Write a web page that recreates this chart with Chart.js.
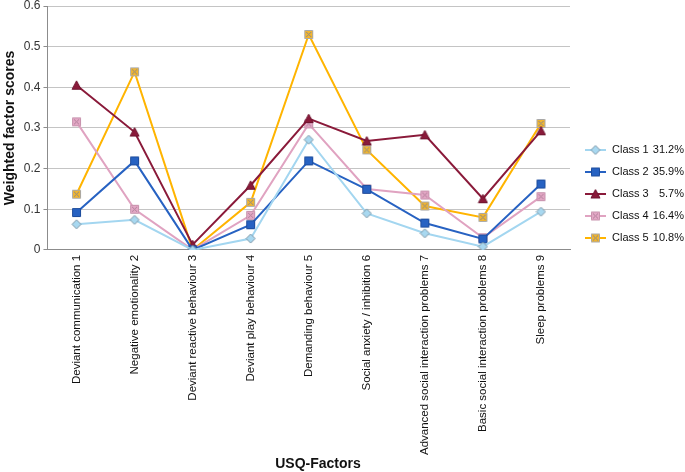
<!DOCTYPE html>
<html>
<head>
<meta charset="utf-8">
<script src="https://cdn.jsdelivr.net/npm/chart.js@4/dist/chart.umd.min.js"></script>
<style>
  html, body { margin: 0; padding: 0; background: #fff; }
  #wrap { width: 685px; height: 472px; }
</style>
</head>
<body>
<div id="wrap"><canvas id="chart"></canvas></div>
<script>
// data
const factors = [
  "Deviant communication 1", "Negative emotionality 2", "Deviant reactive behaviour 3",
  "Deviant play behaviour 4", "Demanding behaviour 5", "Social anxiety / inhibition 6",
  "Advanced social interaction problems 7", "Basic social interaction problems 8", "Sleep problems 9"
];
const classNames = ["Class 1", "Class 2", "Class 3", "Class 4", "Class 5"];
const classShares = ["31.2%", "35.9%", "5.7%", "16.4%", "10.8%"];
const class1 = [0.063, 0.074, 0.0, 0.028, 0.271, 0.09, 0.041, 0.008, 0.094];
const class2 = [0.092, 0.219, 0.0, 0.062, 0.219, 0.149, 0.066, 0.027, 0.162];
const class3 = [0.405, 0.29, 0.013, 0.159, 0.323, 0.268, 0.283, 0.126, 0.293];
const class4 = [0.315, 0.1, 0.0, 0.085, 0.31, 0.15, 0.135, 0.03, 0.131];
const class5 = [0.137, 0.438, 0.0, 0.117, 0.53, 0.246, 0.108, 0.08, 0.311];
const yTicks = [0, 0.1, 0.2, 0.3, 0.4, 0.5, 0.6];

const FONT = "'Liberation Sans', Arial, sans-serif";

// little marker pictures, used on the lines and in the legend
function marker(kind, fill, stroke, cross) {
  const c = document.createElement("canvas");
  c.width = 11; c.height = 11;
  const g = c.getContext("2d");
  g.fillStyle = fill;
  g.strokeStyle = stroke;
  g.lineWidth = 1;
  g.beginPath();
  if (kind == "diamond") {
    g.moveTo(5.5, 1); g.lineTo(10, 5.5); g.lineTo(5.5, 10); g.lineTo(1, 5.5); g.closePath();
  } else if (kind == "triangle") {
    g.moveTo(5.5, 1); g.lineTo(10, 9.5); g.lineTo(1, 9.5); g.closePath();
  } else {
    g.rect(1.5, 1.5, 8, 8);
  }
  g.fill();
  g.stroke();
  if (cross) {
    g.strokeStyle = cross;
    g.beginPath();
    g.moveTo(3, 3); g.lineTo(8, 8);
    g.moveTo(8, 3); g.lineTo(3, 8);
    g.stroke();
  }
  return c;
}

const lineColors = ["#a3d6f0", "#2762c2", "#8a1a3a", "#e0a3c1", "#ffb400"];
const markers = [
  marker("diamond", "#a8d8f0", "#7d96a6"),
  marker("square", "#2762c2", "#1d4c9c"),
  marker("triangle", "#8a1a3a", "#6e1530"),
  marker("square", "#e3a7c5", "#c793ad", "#b0809a"),
  marker("square", "#f2b52e", "#a8a8a8", "#8a8a8a")
];
const seriesValues = [class1, class2, class3, class4, class5];

// legend on the right and the x title, drawn by hand
const extrasPlugin = {
  id: "extras",
  afterDraw(chart) {
    const ctx = chart.ctx;
    ctx.save();
    ctx.font = "11px " + FONT;
    ctx.fillStyle = "#111";
    ctx.textBaseline = "middle";
    chart.data.datasets.forEach(function (ds, i) {
      const y = 150 + i * 22;
      ctx.strokeStyle = ds.borderColor;
      ctx.lineWidth = 2;
      ctx.beginPath();
      ctx.moveTo(585, y);
      ctx.lineTo(606, y);
      ctx.stroke();
      ctx.drawImage(ds.pointStyle, 590, y - 5.5);
      ctx.textAlign = "left";
      ctx.fillText(classNames[i], 612, y);
      ctx.textAlign = "right";
      ctx.fillText(classShares[i], 684, y);
    });
    ctx.font = "bold 14px " + FONT;
    ctx.textAlign = "center";
    ctx.fillText("USQ-Factors", 318, 464);
    ctx.restore();
  }
};

new Chart(document.getElementById("chart"), {
  type: "line",
  data: {
    labels: factors,
    datasets: seriesValues.map(function (vals, i) {
      return {
        label: classNames[i] + " " + classShares[i],
        data: vals,
        borderColor: lineColors[i],
        borderWidth: 2,
        pointStyle: markers[i],
        tension: 0
      };
    })
  },
  options: {
    responsive: true,
    maintainAspectRatio: false,
    animation: false,
    layout: { padding: { top: 5, right: 115, bottom: 12, left: 2 } },
    plugins: { legend: { display: false }, tooltip: { enabled: false } },
    scales: {
      x: {
        offset: true,
        grid: { display: false, drawTicks: false },
        border: { color: "#8c8c8c" },
        ticks: {
          autoSkip: false, maxRotation: 90, minRotation: 90,
          color: "#111", padding: 5,
          font: { family: FONT, size: 11.5 }
        }
      },
      y: {
        min: 0, max: 0.6,
        afterBuildTicks(scale) { scale.ticks = yTicks.map(v => ({ value: v })); },
        afterFit(scale) { scale.paddingTop = 0; scale.paddingBottom = 0; },
        grid: { color: "#c4c4c4", tickColor: "#8c8c8c", tickLength: 4 },
        border: { color: "#8c8c8c" },
        ticks: {
          color: "#333", padding: 3,
          font: { family: FONT, size: 12 },
          callback: v => String(Math.round(v * 10) / 10)
        },
        title: {
          display: true, text: "Weighted factor scores", color: "#111",
          padding: { top: 0, bottom: 2 },
          font: { family: FONT, size: 14, weight: "bold" }
        }
      }
    }
  },
  plugins: [extrasPlugin]
});
</script>
</body>
</html>
